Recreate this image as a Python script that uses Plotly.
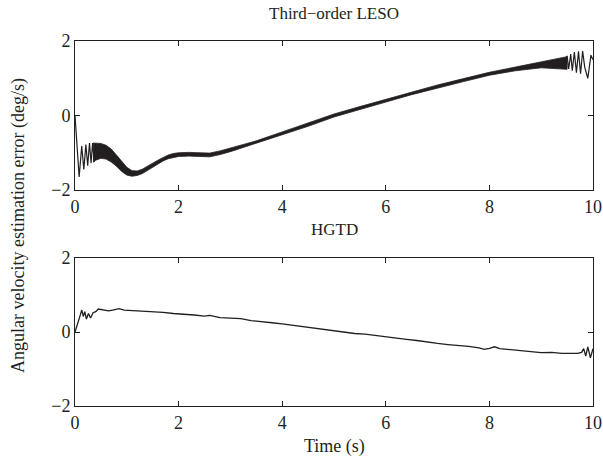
import plotly.graph_objects as go

# ---------------- data ----------------
# Third-order LESO: initial transient (distinct oscillations)
leso_start_t = [0.0, 0.03, 0.08, 0.13, 0.17, 0.21, 0.245, 0.28, 0.31, 0.34, 0.37, 0.40]
leso_start_v = [0.0, -0.6, -1.65, -0.82, -1.45, -0.78, -1.35, -0.74, -1.28, -0.74, -1.24, -0.95]

# Third-order LESO: high-frequency band (upper / lower envelope)
leso_band_t = [0.35, 0.4, 0.5, 0.6, 0.7, 0.8, 0.9, 1.0, 1.1, 1.2, 1.3, 1.4, 1.5, 1.6, 1.7,
               1.8, 1.9, 2.0, 2.2, 2.4, 2.6, 2.8, 3.0, 3.5, 4.0, 4.5, 5.0, 5.5, 6.0, 6.5,
               7.0, 7.5, 8.0, 8.5, 9.0, 9.3, 9.5]
leso_band_up = [-0.74, -0.74, -0.75, -0.8, -0.9, -1.06, -1.24, -1.39, -1.48, -1.49, -1.44, -1.37, -1.28, -1.2, -1.12,
                -1.06, -1.02, -1.0, -0.99, -1.0, -1.01, -0.95, -0.87, -0.68, -0.44, -0.21, 0.04, 0.24, 0.44, 0.64,
                0.82, 0.99, 1.16, 1.3, 1.44, 1.52, 1.58]
leso_band_lo = [-1.26, -1.2, -1.15, -1.17, -1.25, -1.36, -1.5, -1.6, -1.63, -1.61, -1.56, -1.47, -1.38, -1.3, -1.22,
                -1.16, -1.12, -1.1, -1.09, -1.1, -1.11, -1.05, -0.97, -0.76, -0.52, -0.29, -0.04, 0.16, 0.36, 0.56,
                0.74, 0.91, 1.08, 1.2, 1.28, 1.26, 1.24]

# Third-order LESO: final transient (distinct oscillations)
leso_end_t = [9.45, 9.5, 9.53, 9.57, 9.6, 9.64, 9.68, 9.72, 9.76, 9.8, 9.84, 9.9, 9.96, 10.0]
leso_end_v = [1.4, 1.6, 1.25, 1.65, 1.2, 1.7, 1.15, 1.72, 1.12, 1.73, 1.3, 1.0, 1.62, 1.5]

# HGTD
hgtd_t = [0.0, 0.05, 0.1, 0.13, 0.16, 0.19, 0.22, 0.26, 0.3, 0.35, 0.4, 0.45, 0.55, 0.65, 0.75,
          0.85, 0.95, 1.1, 1.3, 1.5, 1.7, 1.9, 2.1, 2.3, 2.5, 2.6, 2.8, 3.0, 3.2, 3.4,
          3.6, 3.8, 4.0, 4.2, 4.4, 4.6, 4.8, 5.0, 5.2, 5.4, 5.6, 5.8, 6.0, 6.2, 6.4,
          6.6, 6.8, 7.0, 7.2, 7.4, 7.6, 7.8, 7.9, 8.0, 8.1, 8.2, 8.4, 8.6, 8.8, 9.0,
          9.2, 9.4, 9.6, 9.7, 9.78, 9.82, 9.86, 9.9, 9.95, 10.0]
hgtd_v = [0.0, 0.2, 0.45, 0.6, 0.42, 0.55, 0.35, 0.5, 0.38, 0.52, 0.55, 0.62, 0.6, 0.57, 0.6,
          0.63, 0.59, 0.58, 0.57, 0.55, 0.53, 0.5, 0.49, 0.46, 0.43, 0.45, 0.39, 0.37, 0.36, 0.31,
          0.27, 0.25, 0.22, 0.18, 0.14, 0.1, 0.08, 0.04, 0.0, -0.04, -0.06, -0.1, -0.13, -0.17, -0.2,
          -0.23, -0.28, -0.31, -0.34, -0.36, -0.39, -0.43, -0.47, -0.44, -0.4, -0.45, -0.47, -0.5, -0.53, -0.56,
          -0.55, -0.58, -0.57, -0.58, -0.55, -0.45, -0.65, -0.4, -0.7, -0.45]

x_ticks = [0, 2, 4, 6, 8, 10]
y_ticks = [-2, 0, 2]

FONT = "Liberation Serif"
FS = 18
INK = "#231f20"

fig = go.Figure()

# band polygon: upper envelope then lower envelope reversed
fig.add_trace(go.Scatter(
    x=leso_band_t + leso_band_t[::-1],
    y=leso_band_up + leso_band_lo[::-1],
    fill="toself", fillcolor=INK, mode="lines",
    line=dict(color=INK, width=0.8), xaxis="x", yaxis="y", showlegend=False))
fig.add_trace(go.Scatter(x=leso_start_t, y=leso_start_v, mode="lines",
                         line=dict(color=INK, width=1.2), xaxis="x", yaxis="y", showlegend=False))
fig.add_trace(go.Scatter(x=leso_end_t, y=leso_end_v, mode="lines",
                         line=dict(color=INK, width=1.2), xaxis="x", yaxis="y", showlegend=False))
fig.add_trace(go.Scatter(x=hgtd_t, y=hgtd_v, mode="lines",
                         line=dict(color=INK, width=1.3), xaxis="x2", yaxis="y2", showlegend=False))

ax_common = dict(showline=True, linecolor=INK, linewidth=1, mirror="ticks", automargin=False,
                 ticks="inside", ticklen=5, tickcolor=INK, showgrid=False, zeroline=False,
                 tickfont=dict(family=FONT, size=FS, color=INK))

# plot-area geometry in page pixels (page body margin is removed below)
FW, FH = 603, 465
PL, PR, PT, PB = 75, 593, 41, 406
L, T = PL, PT
R = FW - PR
B = FH - PB
H = FH - T - B
W = FW - L - R
def py(pix):   # page pixel -> paper y
    return (PB - pix) / H
def px(pix):   # page pixel -> paper x
    return (pix - PL) / W

fig.update_layout(
    width=FW, height=FH,
    margin=dict(l=L, r=R, t=T, b=B, autoexpand=False),
    paper_bgcolor="white", plot_bgcolor="white",
    xaxis=dict(domain=[0, 1], range=[0, 10], tickvals=x_ticks, anchor="y", **ax_common),
    yaxis=dict(domain=[py(190), 1.0], range=[-2, 2], tickvals=y_ticks, anchor="x", **ax_common),
    xaxis2=dict(domain=[0, 1], range=[0, 10], tickvals=x_ticks, anchor="y2", **ax_common),
    yaxis2=dict(domain=[0.0, py(258)], range=[-2, 2], tickvals=y_ticks, anchor="x2", **ax_common),
    annotations=[
        dict(text="Third\u2212order LESO", x=px(334), y=py(13), xref="paper", yref="paper",
             xanchor="center", yanchor="middle", showarrow=False,
             font=dict(family=FONT, size=17, color=INK)),
        dict(text="HGTD", x=px(334), y=py(229), xref="paper", yref="paper",
             xanchor="center", yanchor="middle", showarrow=False,
             font=dict(family=FONT, size=17, color=INK)),
        dict(text="Time (s)", x=px(334), y=py(446), xref="paper", yref="paper",
             xanchor="center", yanchor="middle", showarrow=False,
             font=dict(family=FONT, size=FS, color=INK)),
        dict(text="Angular velocity estimation error (deg/s)", x=px(18), y=py(226),
             xref="paper", yref="paper", xanchor="center", yanchor="middle",
             showarrow=False, textangle=-90, font=dict(family=FONT, size=FS, color=INK)),
    ],
)

fig.write_html("out.html", config={"displayModeBar": False},
               post_script="document.body.style.margin='0px';document.body.style.overflow='hidden';")
